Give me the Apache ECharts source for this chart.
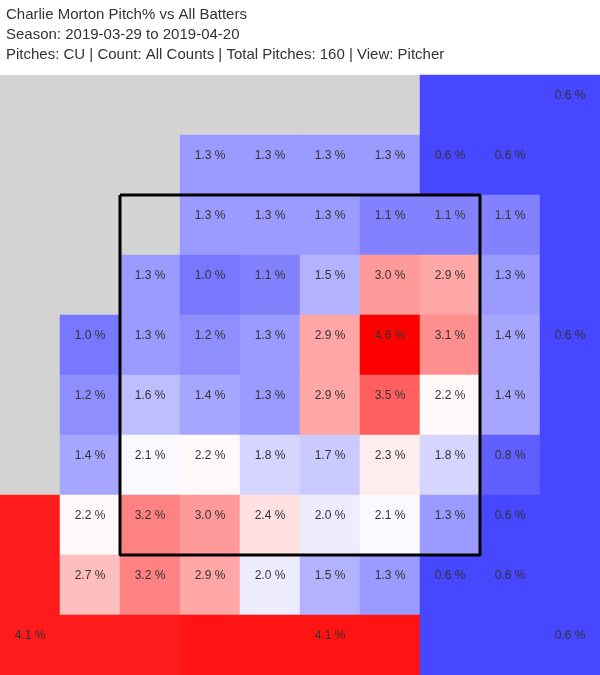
<!DOCTYPE html>
<html>
<head>
<meta charset="utf-8">
<script src="https://cdn.jsdelivr.net/npm/echarts/dist/echarts.min.js"></script>
<style>
html,body{margin:0;padding:0;background:#fff;}
#chart{width:600px;height:675px;}
</style>
</head>
<body>
<div id="chart"></div>
<script>
// Title lines
const titleLines = [
  'Charlie Morton Pitch% vs All Batters',
  'Season: 2019-03-29 to 2019-04-20',
  'Pitches: CU | Count: All Counts | Total Pitches: 160 | View: Pitcher'
];
// Column / row categories of the zone grid (left->right, top->bottom)
const colCats = ['c0','c1','c2','c3','c4','c5','c6','c7','c8','c9'];
const rowCats = ['r0','r1','r2','r3','r4','r5','r6','r7','r8','r9'];
// Pitch % per cell (null = no pitches, gray); outer ring cells carry their zone value
const row0 = [null, null, null, null, null, null, null, 0.6, 0.6, 0.6];
const row1 = [null, null, null, 1.3, 1.3, 1.3, 1.3, 0.6, 0.6, 0.6];
const row2 = [null, null, null, 1.3, 1.3, 1.3, 1.1, 1.1, 1.1, 0.6];
const row3 = [null, null, 1.3, 1.0, 1.1, 1.5, 3.0, 2.9, 1.3, 0.6];
const row4 = [null, 1.0, 1.3, 1.2, 1.3, 2.9, 4.6, 3.1, 1.4, 0.6];
const row5 = [null, 1.2, 1.6, 1.4, 1.3, 2.9, 3.5, 2.2, 1.4, 0.6];
const row6 = [null, 1.4, 2.1, 2.2, 1.8, 1.7, 2.3, 1.8, 0.8, 0.6];
const row7 = [4.07, 2.2, 3.2, 3.0, 2.4, 2.0, 2.1, 1.3, 0.6, 0.6];
const row8 = [4.07, 2.7, 3.2, 2.9, 2.0, 1.5, 1.3, 0.6, 0.6, 0.6];
const row9 = [4.07, 4.07, 4.07, 4.14, 4.14, 4.14, 4.14, 0.6, 0.6, 0.6];
const gridRows = [row0,row1,row2,row3,row4,row5,row6,row7,row8,row9];
// Outer-zone cells where the zone's label is printed [col,row]
const zoneLabelCells = [[9,0],[9,4],[9,9],[0,9],[5,9]];
// Strike zone in cell units: [left, right, top, bottom]
const strikeZone = [2, 8, 2, 8];

const data = [];
gridRows.forEach((r, ri) => {
  r.forEach((v, ci) => {
    if (v === null) return;
    const inner = ri >= 1 && ri <= 8 && ci >= 1 && ci <= 8;
    const zl = zoneLabelCells.some(p => p[0] === ci && p[1] === ri);
    data.push({ value: [ci, ri, v], label: { show: inner || zl } });
  });
});

const sz = strikeZone;
const boxPts = [[sz[0],sz[2]],[sz[1],sz[2]],[sz[1],sz[3]],[sz[0],sz[3]],[sz[0],sz[2]]];

const chart = echarts.init(document.getElementById('chart'));
chart.setOption({
  animation: false,
  backgroundColor: '#ffffff',
  title: {
    text: titleLines.join('\n'),
    left: 6, top: 5, padding: 0,
    textStyle: {
      fontSize: 15, fontWeight: 'normal', color: '#333',
      fontFamily: 'Liberation Sans, Arial, sans-serif', lineHeight: 20
    }
  },
  grid: {
    left: 0, right: 0, top: 75, bottom: 0,
    show: true, backgroundColor: '#d3d3d3', borderWidth: 0
  },
  xAxis: [
    { type: 'category', data: colCats, show: false },
    { type: 'value', min: 0, max: 10, show: false }
  ],
  yAxis: [
    { type: 'category', data: rowCats, inverse: true, show: false },
    { type: 'value', min: 0, max: 10, inverse: true, show: false }
  ],
  visualMap: {
    type: 'continuous', show: false, seriesIndex: 0, dimension: 2,
    min: 0, max: 4.3,
    inRange: { color: ['#0000ff', '#ffffff', '#ff0000'] }
  },
  series: [
    {
      type: 'heatmap',
      xAxisIndex: 0, yAxisIndex: 0,
      data: data,
      itemStyle: { borderWidth: 0 },
      label: {
        show: true,
        offset: [0, -9],
        color: '#333',
        fontSize: 12,
        fontFamily: 'Liberation Sans, Arial, sans-serif',
        formatter: p => p.value[2].toFixed(1) + ' %'
      },
      emphasis: { disabled: true }
    },
    {
      type: 'line',
      xAxisIndex: 1, yAxisIndex: 1,
      data: boxPts,
      showSymbol: false,
      symbol: 'none',
      lineStyle: { color: '#000', width: 3 },
      z: 10,
      silent: true
    }
  ]
});
</script>
</body>
</html>
